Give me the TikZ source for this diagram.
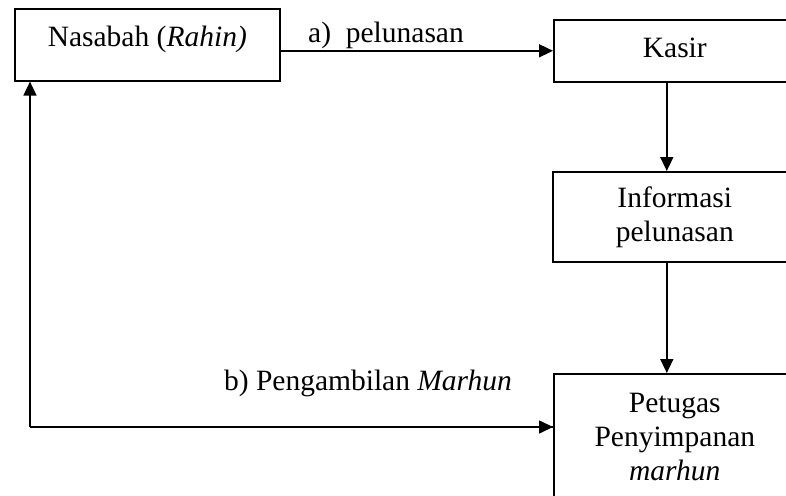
\documentclass[tikz,border=0pt]{standalone}
\usepackage{fontspec}
\setmainfont{Liberation Serif}
\usetikzlibrary{arrows.meta}
\begin{document}
\begin{tikzpicture}[x=1pt,y=-1pt,
  lw/.style={line width=1.6pt},
  box/.style={draw,lw,inner sep=0pt,anchor=north west,align=center,
    font=\fontsize{29.5}{34}\selectfont},
  lbl/.style={anchor=base,inner sep=0pt,font=\fontsize{29.5}{34}\selectfont},
  arr/.style={lw,-{Triangle[length=14pt,width=13pt]}}]
\useasboundingbox (0,0) rectangle (786,495);
\clip (0,0) rectangle (786,495);
\node[box,minimum width=265pt,text height=38pt,text depth=34pt] (nas) at (14,8) {Nasabah (\textit{Rahin)}};
\node[box,minimum width=242pt,text height=38pt,text depth=24pt] (kas) at (553,19) {Kasir};
\node[box,minimum width=244pt,minimum height=90pt] (info) at (552,171) {Informasi\\pelunasan};
\node[box,minimum width=242pt,minimum height=126pt] (pet) at (553,373) {Petugas\\Penyimpanan\\\textit{marhun}};
\node[lbl] (la) at (386,43) {a)\ \ pelunasan};
\node[lbl] (lb) at (368,390) {b) Pengambilan \textit{Marhun}};
\coordinate (k1) at ([xshift=-8pt]kas.south);
\coordinate (i1) at ([xshift=-8pt]info.south);
\coordinate (corner) at (30,427);
\draw[arr] (nas.east |- kas.west) -- (kas.west);
\draw[arr] (k1) -- (k1 |- info.north);
\draw[arr] (i1) -- (i1 |- pet.north);
\draw[lw] (corner -| pet.west) -- (corner);
\draw[arr] (corner) -- (corner |- nas.south);
\draw[arr] (corner) -- (corner -| pet.west);
\end{tikzpicture}
\end{document}
